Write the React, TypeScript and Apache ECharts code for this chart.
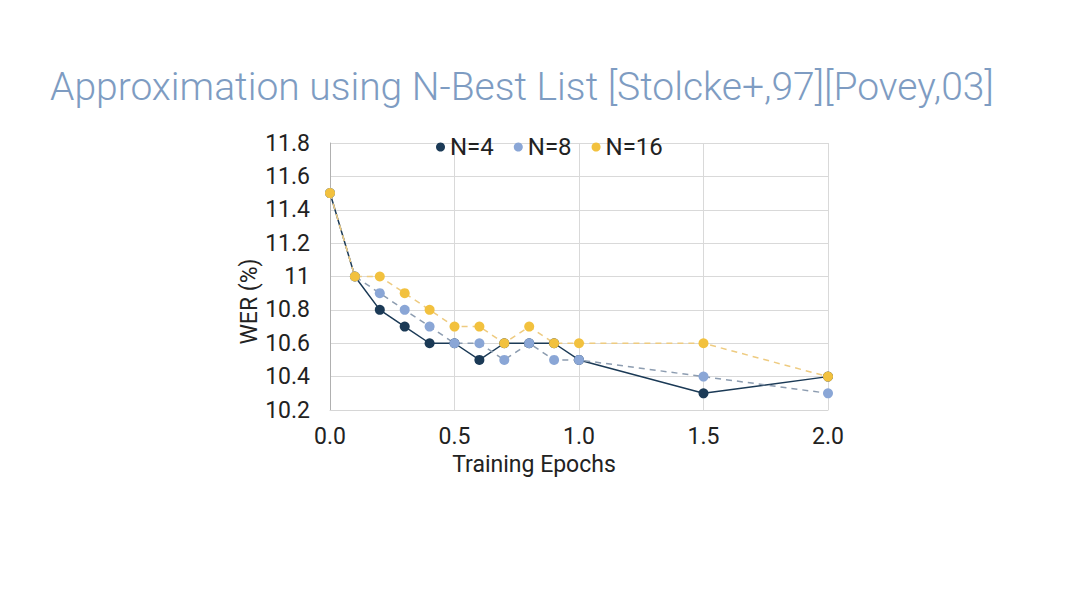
import React, { useEffect, useRef } from "react";
import * as echarts from "echarts";

const epochs = [0, 0.1, 0.2, 0.3, 0.4, 0.5, 0.6, 0.7, 0.8, 0.9, 1.0, 1.5, 2.0];
const werN4 = [11.5, 11.0, 10.8, 10.7, 10.6, 10.6, 10.5, 10.6, 10.6, 10.6, 10.5, 10.3, 10.4];
const werN8 = [11.5, 11.0, 10.9, 10.8, 10.7, 10.6, 10.6, 10.5, 10.6, 10.5, 10.5, 10.4, 10.3];
const werN16 = [11.5, 11.0, 11.0, 10.9, 10.8, 10.7, 10.7, 10.6, 10.7, 10.6, 10.6, 10.6, 10.4];
const seriesNames = ["N=4", "N=8", "N=16"];
const titleText = "Approximation using N-Best List [Stolcke+,97][Povey,03]";

const pair = (ys: number[]) => epochs.map((x, i) => [x, ys[i]]);

export default function App() {
  const ref = useRef<HTMLDivElement>(null);
  useEffect(() => {
    if (!ref.current) return;
    const chart = echarts.init(ref.current, null, { renderer: "svg" });
    const font = "Roboto, 'Noto Sans', sans-serif";
    chart.setOption({
      animation: false,
      backgroundColor: "#ffffff",
      title: {
        text: titleText,
        left: 45,
        top: 62,
        textStyle: {
          fontFamily: font,
          fontWeight: 300,
          fontSize: 39,
          color: "#7e9cc2",
        },
      },
      legend: {
        data: seriesNames,
        left: 431,
        top: 130,
        icon: "circle",
        itemWidth: 9,
        itemHeight: 9,
        itemGap: 20,
        textStyle: { fontFamily: font, fontSize: 24, color: "#222" },
      },
      grid: { left: 330, right: 252, top: 143, bottom: 197, containLabel: false },
      xAxis: {
        type: "value",
        min: 0,
        max: 2,
        interval: 0.5,
        name: "Training Epochs",
        nameLocation: "middle",
        nameGap: 43,
        nameTextStyle: { fontFamily: font, fontSize: 23, color: "#222", padding: [0, 90, 0, 0] },
        axisLine: { show: true, lineStyle: { color: "#d6d6d6" } },
        axisTick: { show: false },
        axisLabel: {
          fontFamily: font,
          fontSize: 23,
          color: "#222",
          margin: 15,
          formatter: (v: number) => v.toFixed(1),
        },
        splitLine: { show: true, lineStyle: { color: "#d9d9d9" } },
      },
      yAxis: {
        type: "value",
        min: 10.2,
        max: 11.8,
        interval: 0.2,
        name: "WER (%)",
        nameLocation: "middle",
        nameGap: 68,
        nameRotate: 90,
        nameTextStyle: { fontFamily: font, fontSize: 23, color: "#222", padding: [0, 50, 0, 0] },
        axisLine: { show: true, lineStyle: { color: "#b0b0b0" } },
        axisTick: { show: false },
        axisLabel: {
          fontFamily: font,
          fontSize: 23,
          color: "#222",
          margin: 20,
          formatter: (v: number) => String(Number(v.toFixed(1))),
        },
        splitLine: { show: true, lineStyle: { color: "#d9d9d9" } },
      },
      series: [
        {
          name: seriesNames[0],
          type: "line",
          data: pair(werN4),
          symbol: "circle",
          symbolSize: 10,
          itemStyle: { color: "#1b3a56" },
          lineStyle: { color: "#1b3a56", width: 1.5 },
        },
        {
          name: seriesNames[1],
          type: "line",
          data: pair(werN8),
          symbol: "circle",
          symbolSize: 10,
          itemStyle: { color: "#8aa6d6" },
          lineStyle: { color: "#8c9cb0", width: 1.5, type: [6, 5] },
        },
        {
          name: seriesNames[2],
          type: "line",
          data: pair(werN16),
          symbol: "circle",
          symbolSize: 10,
          itemStyle: { color: "#f2c13e" },
          lineStyle: { color: "#eecb80", width: 1.5, type: [6, 5] },
        },
      ],
    });
    return () => chart.dispose();
  }, []);
  return (
    <div
      ref={ref}
      style={{ position: "fixed", left: 0, top: 0, width: 1080, height: 607, background: "#fff" }}
    />
  );
}
